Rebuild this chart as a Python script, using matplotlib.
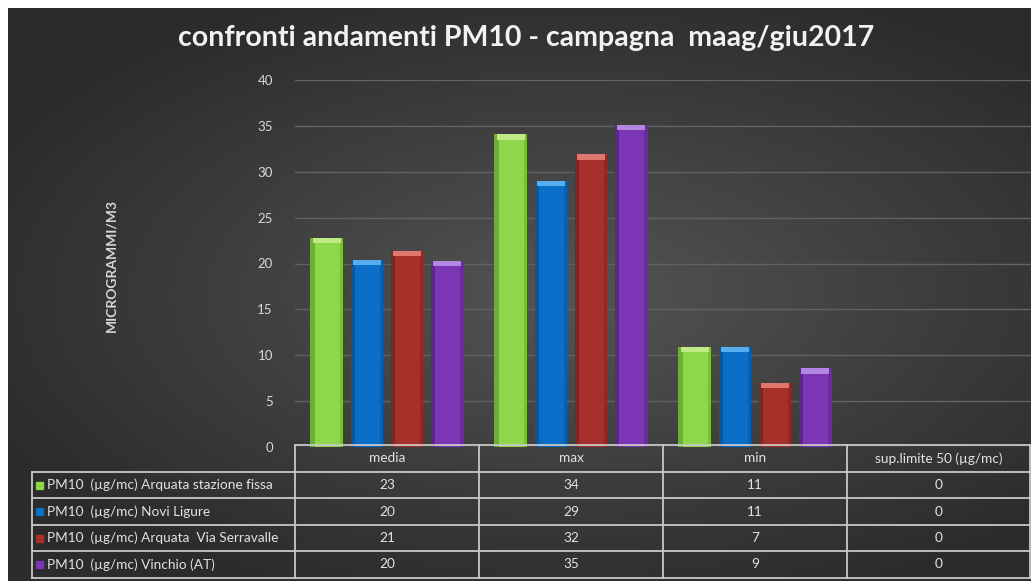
import numpy as np
import matplotlib
matplotlib.use("Agg")
import matplotlib.pyplot as plt
from matplotlib.patches import Rectangle

plt.rcParams['font.family'] = ['Lato', 'DejaVu Sans']

# ---- data ----
categories = ["media", "max", "min", "sup.limite 50 (µg/mc)"]
series_names = [
    "PM10  (µg/mc) Arquata stazione fissa",
    "PM10  (µg/mc) Novi Ligure",
    "PM10  (µg/mc) Arquata  Via Serravalle",
    "PM10  (µg/mc) Vinchio (AT)",
]
arquata_fissa = [22.8, 34.1, 10.9, 0]
novi_ligure = [20.4, 29.0, 10.9, 0]
arquata_serravalle = [21.4, 31.9, 7.0, 0]
vinchio = [20.3, 35.1, 8.6, 0]
series_values = [arquata_fissa, novi_ligure, arquata_serravalle, vinchio]
yticks = [0, 5, 10, 15, 20, 25, 30, 35, 40]
title = "confronti andamenti PM10 - campagna  maag/giu2017"
ylabel = "MICROGRAMMI/M3"

colors = ["#8ed64a", "#0b6fc9", "#a8302b", "#7b35b5"]
caps = ["#bfea85", "#56aef0", "#e0766c", "#b287e0"]
darks = ["#6fae34", "#0857a0", "#85221f", "#5e2590"]

W, H = 1031, 581
fig = plt.figure(figsize=(W / 100, H / 100), dpi=100)
fig.patch.set_facecolor("white")

# ---- background gradient ----
bg = fig.add_axes([8 / W, 0, 1 - 8 / W, 1 - 8 / H])
bg.set_axis_off()
xx, yy = np.meshgrid(np.linspace(-1, 1, 400), np.linspace(-1, 1, 240))
r = np.sqrt(((xx - 0.1) / 1.1) ** 2 + (yy / 1.0) ** 2)
val = np.clip(0.33 - 0.14 * r, 0.17, 0.33)
bg.imshow(np.dstack([val, val, val]), aspect="auto", extent=[0, 1, 0, 1],
          interpolation="bicubic")
bg.set_xlim(0, 1)
bg.set_ylim(0, 1)

# ---- main axes ----
ax_l, ax_r, ax_b, ax_t = 295, 1031, 447, 80
ax = fig.add_axes([ax_l / W, 1 - ax_b / H, (ax_r - ax_l) / W, (ax_b - ax_t) / H])
ax.patch.set_alpha(0)
n_cat = len(categories)
x = np.arange(n_cat)
step = 0.218
bw = 0.178
for i, vals in enumerate(series_values):
    pos = x + (i - 1.5) * step
    v = np.array(vals, dtype=float)
    ax.bar(pos, v, width=bw, color=colors[i], edgecolor="none", zorder=3)
    # darker left/right edges for cylindrical look
    ax.bar(pos - bw * 0.43, v, width=bw * 0.14, color=darks[i], edgecolor="none", zorder=3.5)
    ax.bar(pos + bw * 0.45, v, width=bw * 0.10, color=darks[i], alpha=0.6, edgecolor="none", zorder=3.5)
    # light cap
    capv = np.where(v > 0, 0.6, 0)
    ax.bar(pos, capv, bottom=v - capv, width=bw * 0.86, color=caps[i], edgecolor="none", zorder=4)

ax.set_xlim(-0.5, n_cat - 0.5)
ax.set_ylim(0, 40)
ax.set_yticks(yticks)
ax.set_yticklabels([str(t) for t in yticks], color="#d8d8d8", fontsize=9.5)
ax.tick_params(axis="y", length=0, pad=16)
ax.set_xticks([])
for s in ax.spines.values():
    s.set_visible(False)
ax.grid(axis="y", color="#626262", linewidth=1.0, zorder=0)
ax.set_axisbelow(True)

fig.text(111 / W, 1 - 266 / H, ylabel, rotation=90, ha="center", va="center",
         color="#d8d8d8", fontsize=10, fontweight="bold")
fig.text(526 / W, 1 - 38 / H, title, ha="center", va="center", color="#f2f2f2",
         fontsize=20.5, fontweight="bold")

# ---- data table ----
tb = fig.add_axes([0, 0, 1, 1])
tb.set_axis_off()
tb.set_xlim(0, W)
tb.set_ylim(H, 0)
tb.patch.set_alpha(0)
col_edges = [32, 295, 479, 663, 847, 1030]
row_edges = [445, 472, 498, 525, 551, 578]
lc = "#c8c8c8"
lw = 1.3
tb.plot([col_edges[1], col_edges[-1]], [row_edges[0]] * 2, color=lc, lw=lw)
for r_ in row_edges[1:]:
    tb.plot([col_edges[0], col_edges[-1]], [r_, r_], color=lc, lw=lw)
tb.plot([col_edges[0]] * 2, [row_edges[1], row_edges[-1]], color=lc, lw=lw)
for c in col_edges[1:]:
    tb.plot([c, c], [row_edges[0], row_edges[-1]], color=lc, lw=lw)

tcol = "#e2e2e2"
fs = 9.8
for j, cat in enumerate(categories):
    cx = (col_edges[j + 1] + col_edges[j + 2]) / 2
    tb.text(cx, (row_edges[0] + row_edges[1]) / 2, cat, ha="center", va="center",
            color=tcol, fontsize=fs)
for i, name in enumerate(series_names):
    cy = (row_edges[i + 1] + row_edges[i + 2]) / 2
    tb.add_patch(Rectangle((col_edges[0] + 4, cy - 3.5), 7, 7, color=colors[i]))
    tb.text(col_edges[0] + 15, cy, name, ha="left", va="center", color=tcol, fontsize=fs)
    for j in range(n_cat):
        cx = (col_edges[j + 1] + col_edges[j + 2]) / 2
        tb.text(cx, cy, f"{round(series_values[i][j]):d}", ha="center", va="center",
                color=tcol, fontsize=fs)

fig.savefig("out.png", dpi=100, facecolor=fig.get_facecolor())
